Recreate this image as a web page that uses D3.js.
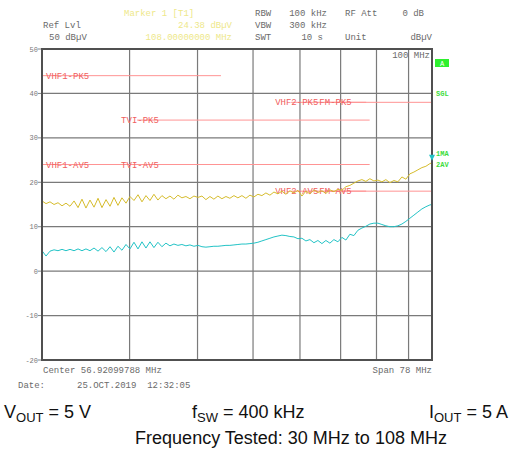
<!DOCTYPE html>
<html><head><meta charset="utf-8">
<script src="https://cdn.jsdelivr.net/npm/d3@7"></script>
<style>
body{margin:0;background:#fff;}
svg{display:block;}
.mono{font-family:"Liberation Mono","DejaVu Sans Mono",monospace;}
</style></head>
<body>
<script>
// ---- data ----
const freqs = [30.00,30.40,30.80,31.21,31.62,32.04,32.46,32.89,33.33,33.77,
34.21,34.66,35.12,35.59,36.06,36.53,37.02,37.51,38.00,38.50,
39.01,39.53,40.05,40.58,41.12,41.66,42.21,42.77,43.33,43.90,
44.48,45.07,45.67,46.27,46.88,47.50,48.13,48.77,49.41,50.07,
50.73,51.40,52.08,52.76,53.46,54.17,54.89,55.61,56.35,57.09,
57.85,58.61,59.39,60.17,60.97,61.77,62.59,63.42,64.26,65.11,
65.97,66.84,67.72,68.62,69.53,70.45,71.38,72.32,73.28,74.25,
75.23,76.22,77.23,78.25,79.29,80.33,81.40,82.47,83.56,84.67,
85.79,86.92,88.07,89.24,90.42,91.61,92.82,94.05,95.29,96.55,
97.83,99.12,100.43,101.76,103.10,104.47,105.85,107.25,108.00];
const peakTrace = [15.8,15.2,15.6,15.0,15.4,14.7,15.3,14.6,15.8,14.3,
16.2,14.2,16.0,14.4,16.4,14.3,16.1,14.6,16.6,14.8,
16.5,15.3,16.8,15.9,17.2,15.6,17.0,15.9,17.3,16.0,
17.0,16.3,16.9,16.2,17.1,16.5,16.8,16.3,16.9,16.6,
16.9,16.1,16.8,16.2,16.9,16.3,16.8,16.4,17.0,16.5,
17.0,16.4,17.1,16.7,17.3,17.0,17.6,17.1,17.8,17.4,
18.0,17.3,18.1,17.6,18.2,16.9,18.0,17.4,18.3,17.7,
18.1,17.5,18.3,17.9,18.4,18.2,19.0,19.3,19.8,20.3,
20.6,20.2,20.8,20.3,20.5,20.1,20.6,19.9,20.4,20.1,
21.2,20.7,21.9,22.3,22.8,23.3,23.6,24.2,24.4];
const avgTrace = [4.6,3.4,4.5,4.8,4.6,4.9,4.6,4.9,4.6,5.0,
4.6,5.0,4.6,5.2,4.5,5.3,4.4,5.5,4.3,5.6,
4.7,6.0,5.0,6.5,5.0,6.6,5.2,6.6,5.3,6.5,
5.5,6.3,5.7,6.1,5.8,6.0,5.7,5.9,5.6,5.8,
5.5,5.4,5.5,5.6,5.6,5.7,5.8,5.8,5.9,6.0,
6.1,6.1,6.2,6.3,6.5,6.8,7.1,7.4,7.7,7.9,
8.1,8.0,7.8,7.7,7.3,7.4,6.8,7.1,6.4,6.9,
6.2,6.9,6.3,7.1,6.6,7.6,7.0,8.3,8.0,9.2,
9.7,10.1,10.6,10.8,10.8,10.5,10.2,10.0,10.0,10.2,
10.6,11.2,11.9,12.6,13.3,14.0,14.5,14.9,15.0];
const limitNames = ["VHF1-PK5","VHF1-AV5","TVI-PK5","TVI-AV5","VHF2-PK5","VHF2-AV5","FM-PK5","FM-AV5"];
const limitStart = [30,30,41,41,68,68,76,76];
const limitEnd   = [54,54,88,88,87,87,108,108];
const limitLevel = [44,24,34,24,38,18,38,18];
const yTicks = [-20,-10,0,10,20,30,40,50];
const xGridFreqs = [40,50,60,70,80,90,100];
const markerFreq = 108, markerLevel = 24.38;

// ---- drawing ----
const W=510,H=463;
const L=42,R=432,T=49,B=360;
const svg=d3.select("body").append("svg").attr("width",W).attr("height",H);
svg.append("rect").attr("width",W).attr("height",H).attr("fill","#fff");
const x=d3.scaleLog().domain([30,108]).range([L,R]);
const y=d3.scaleLinear().domain([-20,50]).range([B,T]);

const grey="#6a6a6a";
const hdr=(t,xx,yy,anchor,col)=>svg.append("text").attr("class","mono").attr("x",xx).attr("y",yy)
  .attr("font-size",9).attr("fill",col||grey).attr("text-anchor",anchor||"start").attr("xml:space","preserve").text(t);
const yel="#eee88a";
hdr("Marker 1 [T1]",124,16,"start",yel);
hdr("Ref Lvl",43,28);
hdr("24.38 dB\u00b5V",232,28,"end",yel);
hdr("50 dB\u00b5V",49,40);
hdr("108.00000000 MHz",232,40,"end",yel);
hdr("RBW",255,16); hdr("100 kHz",327,16,"end"); hdr("RF Att",345,16); hdr("0 dB",424,16,"end");
hdr("VBW",255,28); hdr("300 kHz",327,28,"end");
hdr("SWT",255,40); hdr("10 s",323,40,"end"); hdr("Unit",345,40); hdr("dB\u00b5V",432,40,"end");

// grid
const g=svg.append("g");
g.selectAll("line.hg").data(yTicks.slice(1,-1)).enter().append("line")
  .attr("x1",L).attr("x2",R).attr("y1",d=>y(d)).attr("y2",d=>y(d))
  .attr("stroke","#7a7a7a").attr("stroke-width",1.2);
g.selectAll("line.vg").data(xGridFreqs).enter().append("line")
  .attr("x1",d=>x(d)).attr("x2",d=>x(d)).attr("y1",T).attr("y2",B)
  .attr("stroke","#7a7a7a").attr("stroke-width",1.2);
// y ticks
g.selectAll("line.yt").data(yTicks).enter().append("line")
  .attr("x1",L-4).attr("x2",L).attr("y1",d=>y(d)).attr("y2",d=>y(d)).attr("stroke","#888");
g.selectAll("text.yl").data(yTicks).enter().append("text").attr("class","mono")
  .attr("x",L-4).attr("y",d=>y(d)+2.5).attr("text-anchor","end").attr("font-size",7)
  .attr("fill","#777").text(d=>d);
// 100 MHz label
hdr("100 MHz",430,58,"end");

// limit lines
const limCol="#ff9494", limTxt="#f06060";
limitNames.forEach((n,i)=>{
  svg.append("line").attr("x1",x(limitStart[i])).attr("x2",x(limitEnd[i]))
    .attr("y1",y(limitLevel[i])).attr("y2",y(limitLevel[i])).attr("stroke",limCol).attr("stroke-width",1);
});
const used={};
const cw=5.4;
limitNames.forEach((n,i)=>{
  const lv=limitLevel[i];
  let lx=Math.max(L+4,x(limitStart[i])-16);
  if(used[lv]!==undefined && lx<used[lv]) lx=used[lv];
  used[lv]=lx+n.length*cw+1;
  svg.append("text").attr("class","mono").attr("x",lx).attr("y",y(lv)+3)
    .attr("font-size",9).attr("fill",limTxt).text(n);
});

// traces
const line=d3.line().x((d,i)=>x(freqs[i])).y(d=>y(d));
svg.append("path").datum(avgTrace).attr("d",line).attr("fill","none").attr("stroke","#22c3c6").attr("stroke-width",1);
svg.append("path").datum(peakTrace).attr("d",line).attr("fill","none").attr("stroke","#d6bc2c").attr("stroke-width",1);

// frame
svg.append("rect").attr("x",L).attr("y",T).attr("width",R-L).attr("height",B-T)
  .attr("fill","none").attr("stroke","#505050").attr("stroke-width",2);

// marker
const mx=x(markerFreq), my=y(markerLevel)-2;
svg.append("path").attr("d",`M${mx-3},${my-6}L${mx+3},${my-6}L${mx},${my}Z`).attr("fill","#22c3c6");

// right side annotations
const green="#3ddc3d";
svg.append("rect").attr("x",435).attr("y",59).attr("width",14).attr("height",8).attr("fill","#2ef02e");
svg.append("text").attr("class","mono").attr("x",442).attr("y",66).attr("text-anchor","middle")
  .attr("font-size",7).attr("fill","#fff").text("A");
const side=(t,yy)=>svg.append("text").attr("class","mono").attr("x",436).attr("y",yy)
  .attr("font-size",7).attr("font-weight","bold").attr("fill",green).text(t);
side("SGL",96); side("1MA",156); side("2AV",167);

// bottom texts
hdr("Center 56.92099788 MHz",43,373);
hdr("Span 78 MHz",432,373,"end");
hdr("Date:",18,388);
hdr("25.OCT.2019  12:32:05",77,388);

const big=svg.append("g").attr("font-family","'Liberation Sans',Arial,sans-serif").attr("fill","#111");
const sub=(xx,main,s,rest,anchor)=>{
  const t=big.append("text").attr("x",xx).attr("y",418).attr("font-size",18).attr("text-anchor",anchor||"start");
  t.append("tspan").text(main);
  t.append("tspan").attr("font-size",13).attr("dy",4).text(s);
  t.append("tspan").attr("dy",-4).text(rest);
};
sub(4,"V","OUT"," = 5 V");
sub(192,"f","SW"," = 400 kHz");
sub(508,"I","OUT"," = 5 A","end");
big.append("text").attr("x",291).attr("y",444).attr("font-size",18).attr("text-anchor","middle")
  .text("Frequency Tested: 30 MHz to 108 MHz");
</script>
</body></html>
